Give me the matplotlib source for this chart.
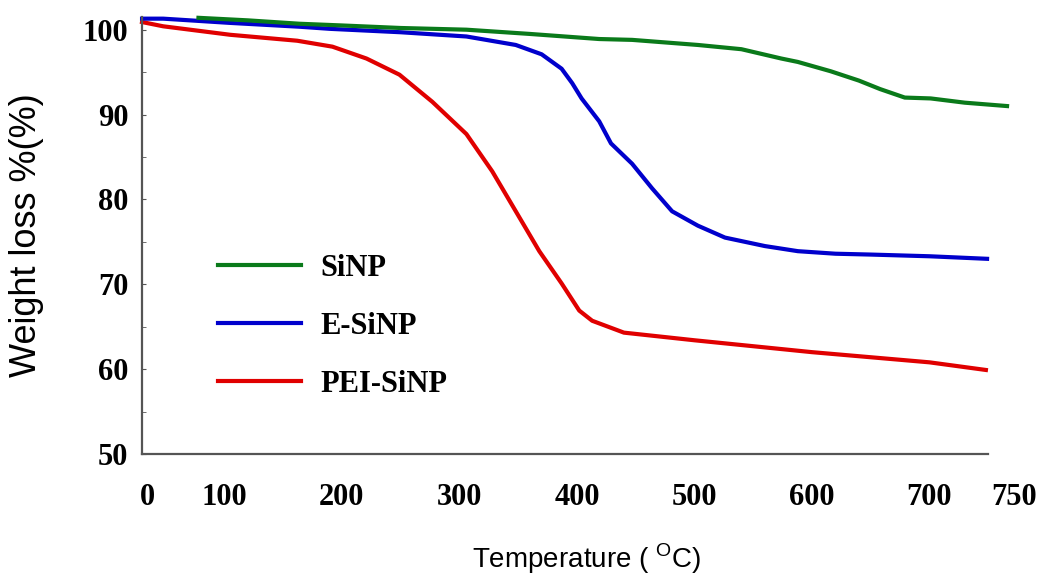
import matplotlib.pyplot as plt

plt.rcParams['mathtext.fontset'] = 'custom'
plt.rcParams['mathtext.rm'] = 'Liberation Sans'

# Дані ТГА (температура, °C  /  залишкова маса, %)
sinp_t = [78, 120, 164, 200, 250, 306, 360, 419, 447, 503, 540, 574, 588, 616, 640, 658, 679, 701, 730, 766]
sinp_w = [101.4, 101.1, 100.7, 100.5, 100.2, 100.0, 99.5, 98.9, 98.8, 98.2, 97.7, 96.6, 96.2, 95.1, 94.0, 93.0, 92.0, 91.9, 91.4, 91.0]

esinp_t = [30, 48, 105, 164, 190, 250, 306, 348, 370, 387, 396, 404, 419, 429, 447, 464, 481, 503, 526, 560, 588, 620, 650, 700, 749]
esinp_w = [101.3, 101.3, 100.8, 100.35, 100.1, 99.7, 99.2, 98.2, 97.1, 95.4, 93.7, 91.9, 89.2, 86.6, 84.2, 81.3, 78.6, 76.9, 75.5, 74.5, 73.9, 73.6, 73.5, 73.3, 73.0]

pei_t = [30, 48, 105, 162, 192, 221, 249, 277, 306, 328, 348, 368, 387, 402, 413, 440, 500, 600, 700, 748]
pei_w = [100.9, 100.4, 99.4, 98.7, 98.0, 96.6, 94.7, 91.5, 87.7, 83.3, 78.6, 73.9, 70.1, 66.9, 65.7, 64.3, 63.4, 62.0, 60.8, 59.9]

x_tick_pos = [35, 100, 200, 300, 400, 500, 600, 700, 772]
x_tick_labels = ['0', '100', '200', '300', '400', '500', '600', '700', '750']
y_ticks = [50, 60, 70, 80, 90, 100]

fig = plt.figure(figsize=(10.46, 5.83), dpi=100)
ax = fig.add_axes([0.1358, 0.2213, 0.8337, 0.7496])

ax.plot(pei_t, pei_w, color='#e00000', lw=3, label='PEI-SiNP', clip_on=False)
ax.plot(esinp_t, esinp_w, color='#0000cc', lw=3, label='E-SiNP', clip_on=False)
ax.plot(sinp_t, sinp_w, color='#0a7a1a', lw=3, label='SiNP', clip_on=False)

ax.set_xlim(30, 770)
ax.set_ylim(50, 101.5)

# Осі: тільки ліва та нижня
for side in ['top', 'right']:
    ax.spines[side].set_visible(False)
for side in ['left', 'bottom']:
    ax.spines[side].set_color('#555555')
    ax.spines[side].set_linewidth(1.6)
ax.spines['bottom'].set_bounds(30, 750)

tick_font = {'family': 'Liberation Serif', 'weight': 'bold', 'size': 22}
ax.set_xticks(x_tick_pos)
ax.set_xticklabels(x_tick_labels, fontdict=tick_font)
ax.set_yticks(y_ticks)
ax.set_yticklabels([str(v) for v in y_ticks], fontdict=tick_font)
ax.set_yticks([55, 65, 75, 85, 95], minor=True)
ax.tick_params(axis='x', length=0, pad=21)
ax.tick_params(axis='y', which='major', length=3, direction='in', color='#555555', pad=10)
ax.tick_params(axis='y', which='minor', length=3, direction='in', color='#555555')

ax.set_ylabel('Weight loss %(%)', fontfamily='Liberation Sans', fontsize=26)
ax.yaxis.set_label_coords(-0.112, 0.5)
ax.set_xlabel('Temperature ( $^{\\rm O}$C)', fontfamily='Liberation Sans', fontsize=20)
ax.xaxis.set_label_coords(0.51, -0.2)

# Легенда в порядку SiNP, E-SiNP, PEI-SiNP
handles, labels = ax.get_legend_handles_labels()
order = [2, 1, 0]
ax.legend([handles[i] for i in order], [labels[i] for i in order],
          loc='upper left', bbox_to_anchor=(218 / 1046, 1 - 254 / 583), bbox_transform=fig.transFigure,
          frameon=False, borderpad=0, borderaxespad=0, handlelength=2.7, handletextpad=0.65,
          labelspacing=0.95, prop={'family': 'Liberation Serif', 'weight': 'bold', 'size': 22})

plt.savefig('out.png', dpi=100)
